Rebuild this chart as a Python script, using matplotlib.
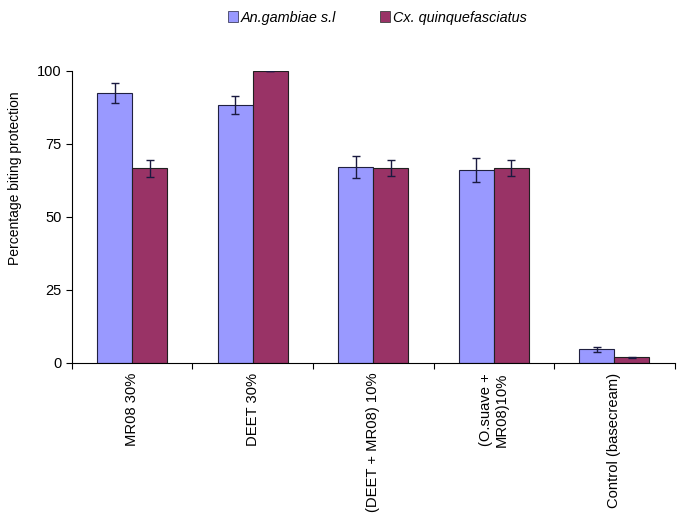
import numpy as np
import matplotlib.pyplot as plt
from matplotlib.patches import Patch

plt.rcParams['font.family'] = ['Liberation Sans', 'DejaVu Sans']

categories = ["MR08 30%", "DEET 30%", "(DEET + MR08) 10%",
              "(O.suave +\nMR08)10%", "Control (basecream)"]
an_vals = [92.4, 88.2, 67.1, 66.0, 4.7]
an_err = [3.4, 3.1, 3.9, 4.0, 0.9]
cx_vals = [66.6, 100.0, 66.7, 66.7, 1.9]
cx_err = [2.8, 0.0, 2.8, 2.8, 0.3]
series_names = ["An.gambiae s.l", "Cx. quinquefasciatus"]
an_color = "#9999FF"
cx_color = "#993366"

fig = plt.figure(figsize=(6.85, 5.17), dpi=100)
ax = fig.add_axes([0.105, 0.298, 0.880, 0.565])

x = np.arange(len(categories))
w = 0.29
err_kw = dict(ecolor="#1a1a40", elinewidth=1.0, capsize=3, capthick=1.0)
ax.bar(x - w / 2, an_vals, w, yerr=an_err, color=an_color,
       edgecolor="#202040", linewidth=0.8, error_kw=err_kw)
ax.bar(x + w / 2, cx_vals, w, yerr=cx_err, color=cx_color,
       edgecolor="#202020", linewidth=0.8, error_kw=err_kw)

ax.set_xlim(-0.5, len(categories) - 0.5)
ax.set_ylim(0, 100)
ax.set_yticks([0, 25, 50, 75, 100])
ax.tick_params(axis='y', labelsize=10.5, length=4, width=0.8)
ax.set_ylabel("Percentage biting protection", fontsize=10)
ax.yaxis.set_label_coords(-0.082, 0.633)

ax.set_xticks(x)
ax.set_xticklabels(categories, rotation=90, fontsize=10.6, va='top', ha='center')
ax.tick_params(axis='x', which='major', length=0, pad=7)
ax.set_xticks(np.arange(len(categories) + 1) - 0.5, minor=True)
ax.tick_params(axis='x', which='minor', length=4, width=0.8)

ax.spines['top'].set_visible(False)
ax.spines['right'].set_visible(False)
ax.spines['left'].set_linewidth(0.8)
ax.spines['bottom'].set_linewidth(0.8)

handles = [Patch(facecolor=an_color, edgecolor="#404060", linewidth=0.6),
           Patch(facecolor=cx_color, edgecolor="#404040", linewidth=0.6)]
leg = fig.legend(handles, series_names, loc='center', bbox_to_anchor=(0.551, 0.966),
                 ncol=2, frameon=False, handlelength=0.7, handleheight=0.7,
                 handletextpad=0.2, columnspacing=3.0,
                 prop={'style': 'italic', 'size': 10.4})

fig.savefig("out.png", dpi=100)
